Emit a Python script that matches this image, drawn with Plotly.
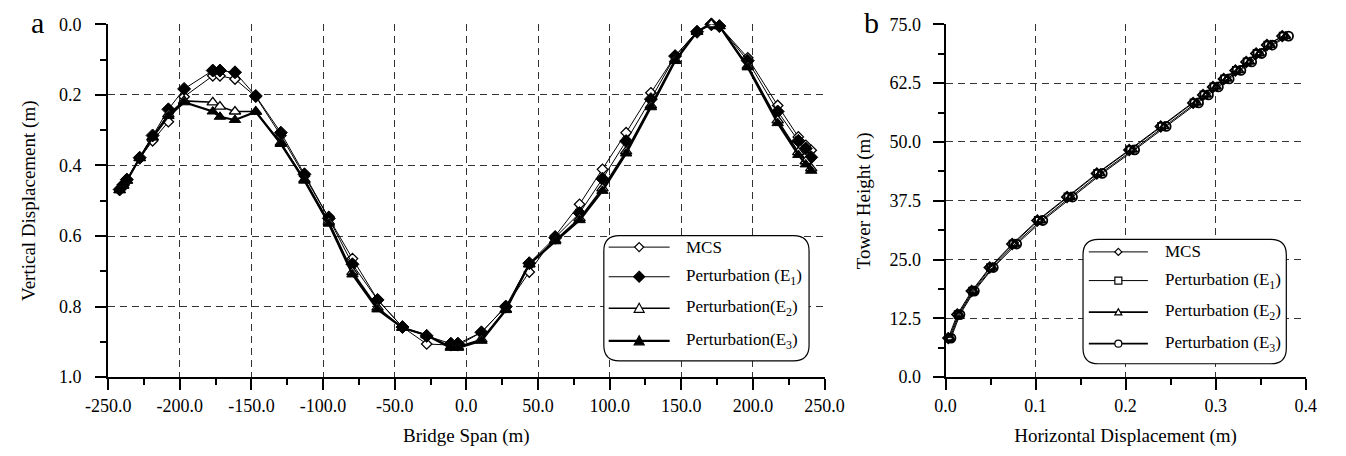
import plotly.graph_objects as go

# ---------------- data ----------------
span_x = [-242, -239.5, -237, -228, -219, -208, -197, -177, -172, -161.5, -147, -129.5,
          -113, -96, -79.5, -62, -44.6, -27.7, -10.8, -5.9, 10.5, 27.5, 43.9, 62, 79,
          95, 111.5, 128.8, 145.7, 161, 171, 176.6, 196.4, 217.3, 231.7, 236.9, 240.7]

mcs_v = [0.468, 0.455, 0.440, 0.380, 0.330, 0.276, 0.205, 0.146, 0.146, 0.155, 0.205, 0.315,
         0.430, 0.545, 0.664, 0.780, 0.858, 0.906, 0.910, 0.910, 0.873, 0.800, 0.702, 0.600, 0.510,
         0.411, 0.307, 0.194, 0.090, 0.020, 0.000, 0.005, 0.095, 0.230, 0.319, 0.343, 0.357]
e1_v = [0.468, 0.455, 0.440, 0.378, 0.315, 0.241, 0.183, 0.131, 0.131, 0.136, 0.203, 0.307,
        0.425, 0.550, 0.680, 0.781, 0.858, 0.883, 0.905, 0.905, 0.873, 0.800, 0.677, 0.605, 0.535,
        0.438, 0.331, 0.212, 0.090, 0.021, 0.000, 0.005, 0.103, 0.247, 0.330, 0.352, 0.377]
e2_v = [0.470, 0.457, 0.443, 0.379, 0.320, 0.255, 0.217, 0.221, 0.233, 0.247, 0.247, 0.336,
        0.440, 0.560, 0.702, 0.803, 0.860, 0.881, 0.914, 0.914, 0.893, 0.808, 0.680, 0.612, 0.550,
        0.465, 0.360, 0.230, 0.100, 0.021, 0.000, 0.005, 0.118, 0.272, 0.362, 0.388, 0.408]
e3_v = [0.470, 0.457, 0.443, 0.379, 0.320, 0.260, 0.221, 0.247, 0.262, 0.271, 0.248, 0.339,
        0.443, 0.565, 0.709, 0.808, 0.860, 0.881, 0.917, 0.917, 0.897, 0.810, 0.680, 0.615, 0.555,
        0.472, 0.366, 0.235, 0.104, 0.021, -0.003, 0.005, 0.122, 0.280, 0.370, 0.397, 0.415]

tower_h = [8.3, 13.3, 18.3, 23.3, 28.3, 33.3, 38.3, 43.3, 48.3, 53.3, 58.3, 60.0,
           61.7, 63.4, 65.2, 67.0, 68.8, 70.6, 72.5]
mcs_h = [0.003, 0.013, 0.029, 0.049, 0.074, 0.102, 0.135, 0.168, 0.204, 0.239, 0.275, 0.286,
         0.297, 0.309, 0.322, 0.334, 0.345, 0.357, 0.374]
e1_h = [0.004, 0.014, 0.030, 0.050, 0.075, 0.103, 0.136, 0.169, 0.205, 0.240, 0.276, 0.287,
        0.298, 0.310, 0.323, 0.335, 0.346, 0.358, 0.375]
e2_h = [0.005, 0.015, 0.031, 0.052, 0.077, 0.106, 0.139, 0.172, 0.208, 0.243, 0.279, 0.290,
        0.301, 0.313, 0.326, 0.338, 0.349, 0.361, 0.378]
e3_h = [0.006, 0.016, 0.032, 0.053, 0.079, 0.108, 0.141, 0.174, 0.210, 0.245, 0.281, 0.292,
        0.303, 0.315, 0.328, 0.340, 0.351, 0.363, 0.381]

a_xticks = [-250, -200, -150, -100, -50, 0, 50, 100, 150, 200, 250]
a_xtext = ["-250.0", "-200.0", "-150.0", "-100.0", "-50.0", "0.0", "50.0", "100.0", "150.0", "200.0", "250.0"]
a_yticks = [0.0, 0.2, 0.4, 0.6, 0.8, 1.0]
a_ytext = ["0.0", "0.2", "0.4", "0.6", "0.8", "1.0"]
b_xticks = [0.0, 0.1, 0.2, 0.3, 0.4]
b_xtext = ["0.0", "0.1", "0.2", "0.3", "0.4"]
b_yticks = [0.0, 12.5, 25.0, 37.5, 50.0, 62.5, 75.0]
b_ytext = ["0.0", "12.5", "25.0", "37.5", "50.0", "62.5", "75.0"]

legend_a = ["MCS", "Perturbation (E<sub>1</sub>)", "Perturbation(E<sub>2</sub>)", "Perturbation(E<sub>3</sub>)"]
legend_b = ["MCS", "Perturbation (E<sub>1</sub>)", "Perturbation (E<sub>2</sub>)", "Perturbation (E<sub>3</sub>)"]

# ---------------- figure ----------------
W, H = 1346, 456
FONT = "Liberation Serif"


def px(x):
    return x / W


def py(y):
    return 1 - y / H


fig = go.Figure()

a_styles = [
    dict(sym="diamond", fill="white", size=8, lw=1.0, mlw=1.3),
    dict(sym="diamond", fill="black", size=10, lw=1.0, mlw=1.0),
    dict(sym="triangle-up", fill="white", size=10, lw=1.6, mlw=1.3),
    dict(sym="triangle-up", fill="black", size=10, lw=2.2, mlw=1.0),
]
for vals, st in zip([mcs_v, e1_v, e2_v, e3_v], a_styles):
    fig.add_trace(go.Scatter(
        x=span_x, y=vals, mode="lines+markers", xaxis="x", yaxis="y",
        line=dict(color="black", width=st["lw"]),
        marker=dict(symbol=st["sym"], size=st["size"], color=st["fill"],
                    line=dict(color="black", width=st["mlw"])),
        cliponaxis=False, showlegend=False))

b_styles = [
    dict(sym="diamond", size=8),
    dict(sym="square", size=7),
    dict(sym="triangle-up", size=8),
    dict(sym="circle", size=9),
]
for vals, st in zip([mcs_h, e1_h, e2_h, e3_h], b_styles):
    fig.add_trace(go.Scatter(
        x=vals, y=tower_h, mode="lines+markers", xaxis="x2", yaxis="y2",
        line=dict(color="black", width=1),
        marker=dict(symbol=st["sym"], size=st["size"], color="rgba(255,255,255,0)",
                    line=dict(color="black", width=1.8)),
        cliponaxis=False, showlegend=False))

GRID = dict(showgrid=True, gridcolor="#333", gridwidth=1, griddash="7px,5px",
            showline=True, linecolor="black", linewidth=2,
            ticks="outside", ticklen=11, tickwidth=2, tickcolor="black",
            tickfont=dict(family=FONT, size=18, color="black"), zeroline=False,
            tickmode="array")
MINOR = dict(ticks="outside", ticklen=6, tickwidth=2, tickcolor="black", showgrid=False)
TFONT = dict(family=FONT, size=19, color="black")

fig.update_layout(
    width=W, height=H, margin=dict(l=0, r=0, t=0, b=0),
    paper_bgcolor="white", plot_bgcolor="white",
    font=dict(family=FONT, color="black"),
    xaxis=dict(domain=[px(88), px(828)], range=[-250, 250], anchor="y",
               tickvals=a_xticks, ticktext=a_xtext,
               minor=dict(dtick=25, tick0=0, **MINOR),
               title=dict(text="Bridge Span (m)", font=TFONT, standoff=14),
               **GRID),
    yaxis=dict(domain=[py(384), py(15)], range=[1.0, 0.0], anchor="x",
               tickvals=a_yticks, ticktext=a_ytext, ticklabelstandoff=10,
               minor=dict(dtick=0.1, tick0=0, **MINOR),
               title=dict(text="Vertical Displacement (m)", font=TFONT, standoff=18),
               **GRID),
    xaxis2=dict(domain=[px(953), px(1325)], range=[0, 0.4], anchor="y2",
                tickvals=b_xticks, ticktext=b_xtext,
                minor=dict(dtick=0.05, tick0=0, **MINOR),
                title=dict(text="Horizontal Displacement (m)", font=TFONT, standoff=14),
                **GRID),
    yaxis2=dict(domain=[py(384), py(15)], range=[0, 75], anchor="x2",
                tickvals=b_yticks, ticktext=b_ytext, ticklabelstandoff=8,
                minor=dict(dtick=6.25, tick0=0, **MINOR),
                title=dict(text="Tower Height (m)", font=TFONT, standoff=14),
                **GRID),
)

shapes = []
annotations = []


def rounded_box(x0, y0, x1, y1, r):
    X = lambda v: px(v)
    Y = lambda v: py(v)
    path = (f"M {X(x0 + r)},{Y(y0)} L {X(x1 - r)},{Y(y0)} Q {X(x1)},{Y(y0)} {X(x1)},{Y(y0 + r)} "
            f"L {X(x1)},{Y(y1 - r)} Q {X(x1)},{Y(y1)} {X(x1 - r)},{Y(y1)} "
            f"L {X(x0 + r)},{Y(y1)} Q {X(x0)},{Y(y1)} {X(x0)},{Y(y1 - r)} "
            f"L {X(x0)},{Y(y0 + r)} Q {X(x0)},{Y(y0)} {X(x0 + r)},{Y(y0)} Z")
    return dict(type="path", xref="paper", yref="paper", path=path,
                line=dict(color="black", width=1.2), fillcolor="white", layer="above")


def marker_shape(sym, cx, cy, s, fill, lw=1.2):
    base = dict(xref="paper", yref="paper", xsizemode="pixel", ysizemode="pixel",
                xanchor=px(cx), yanchor=py(cy), fillcolor=fill,
                line=dict(color="black", width=lw), layer="above")
    if sym == "diamond":
        return dict(type="path", path=f"M 0,{s} L {s},0 L 0,{-s} L {-s},0 Z", **base)
    if sym == "triangle":
        return dict(type="path", path=f"M {-s},{-0.8 * s} L {s},{-0.8 * s} L 0,{s} Z", **base)
    if sym == "square":
        return dict(type="path", path=f"M {-s},{-s} L {s},{-s} L {s},{s} L {-s},{s} Z", **base)
    return dict(type="circle", x0=-s, x1=s, y0=-s, y1=s, **base)


def legend(box, ys, lx0, lx1, tx, labels, syms, lws):
    shapes.append(rounded_box(*box, 16))
    mx = (lx0 + lx1) / 2
    for y, lab, (sym, s, fill), lw in zip(ys, labels, syms, lws):
        shapes.append(dict(type="line", xref="paper", yref="paper",
                           x0=px(lx0), x1=px(lx1), y0=py(y), y1=py(y),
                           line=dict(color="black", width=lw), layer="above"))
        shapes.append(marker_shape(sym, mx, y, s, fill))
        annotations.append(dict(xref="paper", yref="paper", x=px(tx), y=py(y),
                                xanchor="left", yanchor="middle", showarrow=False,
                                text=lab, font=dict(family=FONT, size=17, color="black")))


legend((600, 236, 812, 367), [248, 279, 312, 346], 605, 668, 683, legend_a,
       [("diamond", 4.5, "white"), ("diamond", 5.5, "black"),
        ("triangle", 5, "white"), ("triangle", 5, "black")],
       [1.0, 1.0, 1.6, 2.2])
legend((1095, 240, 1305, 370), [253, 283, 316, 349], 1101, 1162, 1178, legend_b,
       [("diamond", 3.5, "white"), ("square", 3.5, "white"),
        ("triangle", 3.5, "white"), ("circle", 3.5, "white")],
       [1.0, 1.0, 1.6, 1.8])

annotations.append(dict(xref="paper", yref="paper", x=px(15), y=py(13), showarrow=False,
                        xanchor="center", yanchor="middle",
                        text="a", font=dict(family=FONT, size=30, color="black")))
annotations.append(dict(xref="paper", yref="paper", x=px(876), y=py(13), showarrow=False,
                        xanchor="center", yanchor="middle",
                        text="b", font=dict(family=FONT, size=30, color="black")))

fig.update_layout(shapes=shapes, annotations=annotations)
fig.write_html("out.html")
